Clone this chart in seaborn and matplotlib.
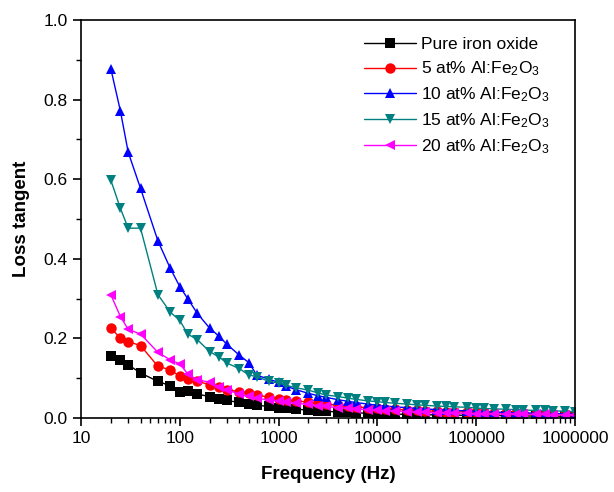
import numpy as np
import pandas as pd
import matplotlib
matplotlib.use("Agg")
import matplotlib.pyplot as plt
import seaborn as sns
from matplotlib.ticker import LogLocator, NullFormatter, MultipleLocator, FixedLocator, FixedFormatter

freq = [20, 25, 30, 40, 60, 80, 100, 120, 150, 200, 250, 300, 400, 500, 600, 800,
        1e3, 1.2e3, 1.5e3, 2e3, 2.5e3, 3e3, 4e3, 5e3, 6e3, 8e3,
        1e4, 1.2e4, 1.5e4, 2e4, 2.5e4, 3e4, 4e4, 5e4, 6e4, 8e4,
        1e5, 1.2e5, 1.5e5, 2e5, 2.5e5, 3e5, 4e5, 5e5, 6e5, 8e5, 1e6]

pure = [0.156, 0.146, 0.134, 0.113, 0.092, 0.081, 0.065, 0.069, 0.060, 0.054, 0.048, 0.044, 0.039, 0.036, 0.032, 0.029,
        0.026, 0.024, 0.022, 0.020, 0.018, 0.017, 0.015, 0.014, 0.013, 0.012,
        0.011, 0.010, 0.010, 0.009, 0.009, 0.008, 0.008, 0.007, 0.007, 0.007,
        0.006, 0.006, 0.006, 0.006, 0.005, 0.005, 0.005, 0.005, 0.005, 0.004, 0.004]
al5 = [0.226, 0.201, 0.192, 0.182, 0.130, 0.121, 0.105, 0.098, 0.092, 0.084, 0.078, 0.071, 0.066, 0.064, 0.058, 0.052,
       0.049, 0.046, 0.043, 0.040, 0.037, 0.035, 0.032, 0.030, 0.028, 0.026,
       0.024, 0.023, 0.022, 0.020, 0.019, 0.018, 0.017, 0.016, 0.016, 0.015,
       0.014, 0.014, 0.013, 0.013, 0.012, 0.012, 0.011, 0.011, 0.010, 0.010, 0.010]
al10 = [0.878, 0.772, 0.668, 0.577, 0.445, 0.376, 0.330, 0.300, 0.263, 0.226, 0.205, 0.185, 0.158, 0.139, 0.108, 0.097,
        0.090, 0.080, 0.071, 0.062, 0.056, 0.052, 0.046, 0.042, 0.039, 0.035,
        0.032, 0.030, 0.028, 0.026, 0.024, 0.023, 0.021, 0.020, 0.019, 0.018,
        0.017, 0.016, 0.015, 0.014, 0.013, 0.013, 0.012, 0.011, 0.011, 0.010, 0.010]
al15 = [0.598, 0.527, 0.477, 0.477, 0.310, 0.266, 0.245, 0.211, 0.197, 0.167, 0.153, 0.138, 0.124, 0.108, 0.104, 0.092,
        0.088, 0.082, 0.076, 0.070, 0.063, 0.058, 0.054, 0.050, 0.047, 0.043,
        0.041, 0.039, 0.037, 0.035, 0.033, 0.032, 0.030, 0.029, 0.028, 0.027,
        0.025, 0.024, 0.023, 0.022, 0.021, 0.020, 0.019, 0.019, 0.018, 0.017, 0.016]
al20 = [0.310, 0.255, 0.223, 0.211, 0.165, 0.146, 0.136, 0.111, 0.096, 0.090, 0.078, 0.071, 0.060, 0.055, 0.050, 0.045,
        0.043, 0.040, 0.037, 0.034, 0.031, 0.029, 0.026, 0.024, 0.023, 0.021,
        0.019, 0.018, 0.017, 0.016, 0.015, 0.014, 0.013, 0.013, 0.012, 0.012,
        0.011, 0.011, 0.010, 0.010, 0.010, 0.009, 0.009, 0.009, 0.008, 0.008, 0.008]

labels = ["Pure iron oxide",
          r"5 at% Al:Fe$_2$O$_3$",
          r"10 at% Al:Fe$_2$O$_3$",
          r"15 at% Al:Fe$_2$O$_3$",
          r"20 at% Al:Fe$_2$O$_3$"]
series = [pure, al5, al10, al15, al20]
colors = ["#000000", "#FF0000", "#0000FF", "#008080", "#FF00FF"]
markers = ["s", "o", "^", "v", "<"]
xticks = [10, 100, 1000, 10000, 100000, 1000000]
xticklabels = ["10", "100", "1000", "10000", "100000", "1000000"]

sns.set_style("ticks")
plt.rcParams["font.family"] = ["Liberation Sans", "DejaVu Sans"]
plt.rcParams["mathtext.fontset"] = "custom"
plt.rcParams["mathtext.rm"] = "Liberation Sans"
plt.rcParams["mathtext.it"] = "Liberation Sans"
plt.rcParams["mathtext.default"] = "regular"
plt.rcParams["text.color"] = "black"
plt.rcParams["axes.labelcolor"] = "black"
plt.rcParams["xtick.color"] = "black"
plt.rcParams["ytick.color"] = "black"

fig = plt.figure(figsize=(6.14, 4.92), dpi=100)
ax = fig.add_axes([0.132, 0.1504, 0.8045, 0.8089])

for vals, lab, col, mk in zip(series, labels, colors, markers):
    df = pd.DataFrame({"f": freq, "v": vals})
    sns.lineplot(data=df, x="f", y="v", ax=ax, color=col, marker=mk,
                 markersize=7.5, markeredgewidth=0, linewidth=1.0,
                 label=lab, sort=False, estimator=None)

ax.set_xscale("log")
ax.set_xlim(10, 1e6)
ax.set_ylim(0, 1.0)
ax.xaxis.set_major_locator(FixedLocator(xticks))
ax.xaxis.set_major_formatter(FixedFormatter(xticklabels))
ax.xaxis.set_minor_locator(LogLocator(base=10, subs=np.arange(2, 10)))
ax.xaxis.set_minor_formatter(NullFormatter())
ax.yaxis.set_major_locator(MultipleLocator(0.2))
ax.yaxis.set_minor_locator(MultipleLocator(0.1))
ax.yaxis.set_major_formatter(matplotlib.ticker.FormatStrFormatter("%.1f"))

for s in ax.spines.values():
    s.set_visible(True)
    s.set_linewidth(1.2)
    s.set_color("black")
ax.tick_params(which="major", direction="out", length=6, width=1.2, labelsize=12.5, colors="black")
ax.tick_params(which="minor", direction="out", length=3.5, width=1.0)
ax.tick_params(top=False, right=False, which="both")

ax.set_xlabel("Frequency (Hz)", fontsize=13.5, fontweight="bold", labelpad=14)
ax.set_ylabel("Loss tangent", fontsize=13.5, fontweight="bold", labelpad=10)

leg = ax.legend(loc="upper left", frameon=False, fontsize=12.5, handlelength=3.0,
                handletextpad=0.25, labelspacing=0.42, borderaxespad=0.0, borderpad=0.0,
                bbox_to_anchor=(0.573, 0.957))

fig.savefig("out.png", dpi=100)
